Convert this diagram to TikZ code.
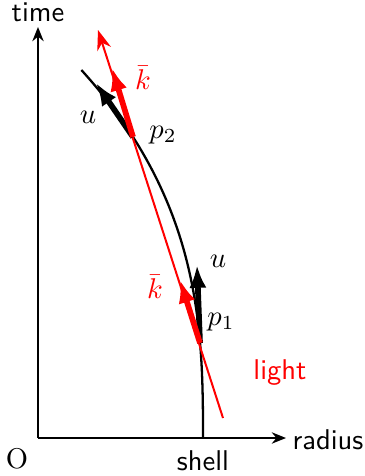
\documentclass[tikz,border=0pt]{standalone}
\usetikzlibrary{arrows.meta}
\begin{document}
\begin{tikzpicture}[x=0.35pt,y=-0.35pt,
  axis/.style={line width=0.5pt,-{Stealth[length=5pt,width=4pt]}},
  world/.style={line width=0.8pt},
  ray/.style={red,line width=0.7pt},
  vec/.style={line width=2pt,-{Latex[length=8pt,width=6pt]}},
  lab/.style={font=\sffamily},
  mlab/.style={inner sep=0pt}]
\useasboundingbox (0,0) rectangle (365,476);
\coordinate (O) at (38,438);
\coordinate (ytip) at (38,27);
\coordinate (xtip) at (286,438);
\coordinate (p1) at (200,343);
\coordinate (p2) at (133,137);
% axes
\draw[axis] (O) -- (ytip);
\draw[axis] (O) -- (xtip);
\node[lab] (time) at (38,12) {time};
\node[lab,anchor=east,inner sep=0pt] (radius) at (364,440) {radius};
\node (o) at (17,459) {O};
\node[lab] (shell) at (203,461) {shell};
% shell worldline
\draw[world] plot[domain=0.01:368,samples=120] ({203-70*pow(\x/301,2.75)},{438-\x});
% light ray
\coordinate (ltip) at (98,30);
\coordinate (lb) at (223,418);
\draw[ray,-{Stealth[length=7pt,width=5pt]}] (lb) -- (ltip);
% vectors
\coordinate (u1) at (197,265);
\coordinate (k1) at (180,280);
\coordinate (u2) at (96,83);
\coordinate (k2) at (112,68);
\draw[vec] (p1) -- (u1);
\draw[vec] (p2) -- (u2);
\draw[vec,red] (p1) -- (k1);
\draw[vec,red] (p2) -- (k2);
% labels
\node[mlab] (lu1) at (218,261) {$u$};
\node[mlab,red] (lk1) at (155,287) {$\bar{k}$};
\node[mlab] (lp1) at (221,322) {$p_1$};
\node[mlab] (lp2) at (163,135) {$p_2$};
\node[mlab] (lu2) at (88,117) {$u$};
\node[mlab,red] (lk2) at (143,78) {$\bar{k}$};
\node[lab,red] (light) at (280,373) {light};
\end{tikzpicture}
\end{document}
